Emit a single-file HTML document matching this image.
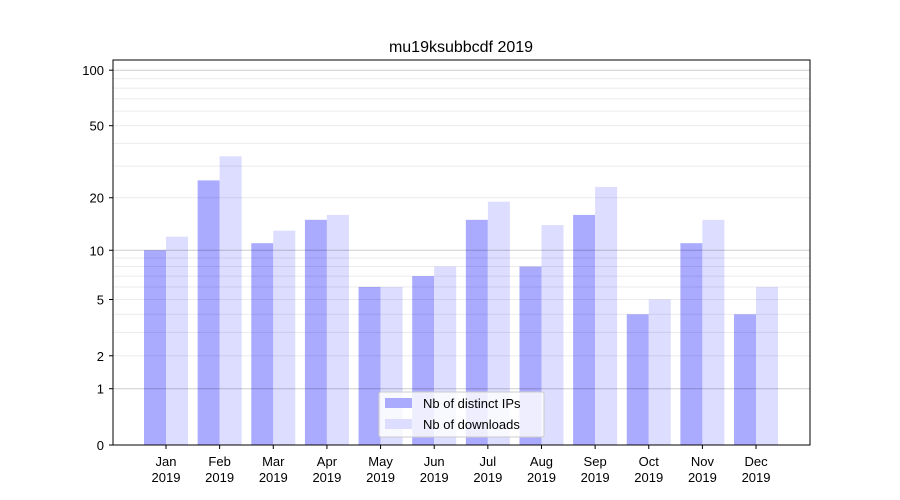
<!DOCTYPE html>
<html><head><meta charset="utf-8"><style>
body{margin:0;background:#fff;}
svg{display:block;font-family:"Liberation Sans","DejaVu Sans",sans-serif;}
</style></head><body>
<svg id="chart" width="900" height="500">
<rect width="900" height="500" fill="#fff"/>
<text x="461" y="52" font-size="16" text-anchor="middle">mu19ksubbcdf 2019</text>
<g id="bars"></g>
<g id="grid"></g>
<rect x="113" y="60" width="697" height="385" fill="none" stroke="#000" stroke-width="1"/>
<g id="axes"></g>
<g>
<rect x="379" y="392" width="165" height="45" fill="#fff" fill-opacity="0.8" stroke="#ccc" rx="2"/>
<rect x="385" y="398" width="27" height="10" fill="#aaaaff"/>
<text x="423" y="408" font-size="13">Nb of distinct IPs</text>
<rect x="385" y="419" width="27" height="10" fill="#ddddff"/>
<text x="423" y="429" font-size="13">Nb of downloads</text>
</g>
</svg>
<script>
const months=["Jan","Feb","Mar","Apr","May","Jun","Jul","Aug","Sep","Oct","Nov","Dec"];
const ips=[10,25,11,15,6,7,15,8,16,4,11,4];
const downloads=[12,34,13,16,6,8,19,14,23,5,15,6];
const yTicks=[0,1,2,5,10,20,50,100];
const NS="http://www.w3.org/2000/svg";
function y(v){return 445-187*Math.log10(v+1);}
function xc(i){return 166+i*53.64;}
function mk(t,a,p){const e=document.createElementNS(NS,t);for(const k in a)e.setAttribute(k,a[k]);p.appendChild(e);return e;}
const grid=document.getElementById('grid'),bars=document.getElementById('bars'),axes=document.getElementById('axes');
const minors=[];
for(let d=1;d<=100;d*=10)for(let m=2;m<=9;m++)if(m*d<115)minors.push(m*d);
minors.forEach(v=>{const l=mk('line',{x1:113,x2:810,y1:y(v),y2:y(v),stroke:'#000','stroke-opacity':0.08,'stroke-width':1},grid);

});
[1,10,100].forEach(v=>{const l=mk('line',{x1:113,x2:810,y1:y(v),y2:y(v),stroke:'#000','stroke-opacity':0.2,'stroke-width':1},grid);

});
months.forEach((m,i)=>{
 const c=xc(i);
 const b1=mk('rect',{x:c-22,y:y(ips[i]),width:22,height:445-y(ips[i]),fill:'#aaaaff'},bars);
 
 
 const b2=mk('rect',{x:c,y:y(downloads[i]),width:22,height:445-y(downloads[i]),fill:'#ddddff'},bars);
 
 
 mk('line',{x1:c,x2:c,y1:445,y2:449,stroke:'#000'},axes);
 const t=mk('text',{x:c,y:466,'font-size':13,'text-anchor':'middle'},axes);
 
 
 mk('tspan',{x:c,dy:0},t).textContent=m;
 mk('tspan',{x:c,dy:16},t).textContent='2019';
});
yTicks.forEach(v=>{
 mk('line',{x1:109,x2:113,y1:y(v),y2:y(v),stroke:'#000'},axes);
 const t=mk('text',{x:104,y:y(v)+5,'font-size':13,'text-anchor':'end'},axes);
 
 
 t.textContent=v;
});
</script>
</body></html>
